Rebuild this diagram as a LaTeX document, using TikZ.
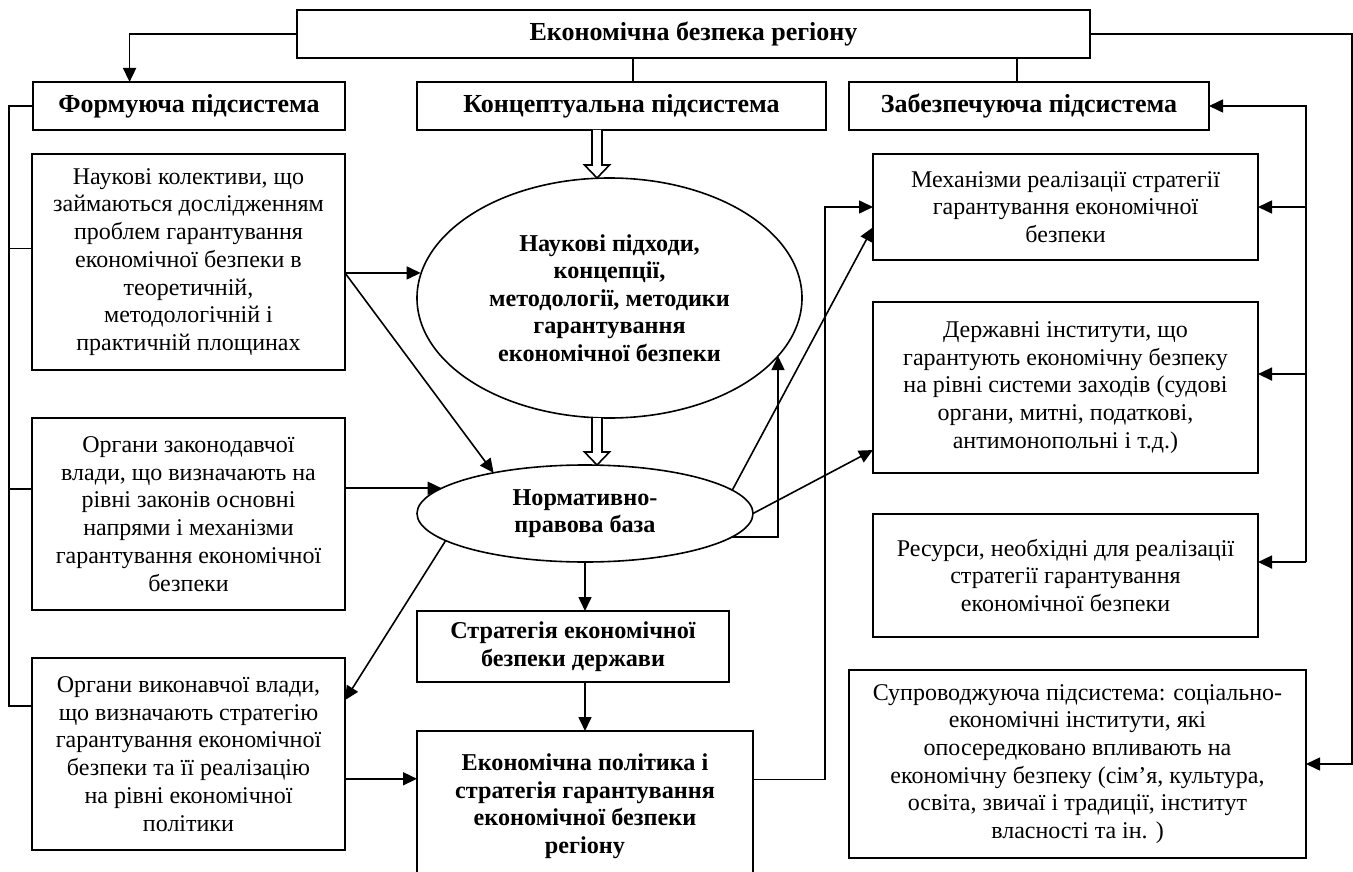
\documentclass[tikz,border=0pt]{standalone}
\usepackage{fontspec}
\setmainfont{Liberation Serif}
\usetikzlibrary{shapes.geometric}
\usetikzlibrary{arrows.meta}
\usetikzlibrary{calc}

\newcommand{\hollowarrow}[2]{%
  \draw[line width=1.6pt,fill=white,line join=miter]
    ($(#1)+(-5,0)$) -- ($(#2)+(-5,-13)$) -- ($(#2)+(-12.5,-13)$) -- (#2)
    -- ($(#2)+(12.5,-13)$) -- ($(#2)+(5,-13)$) -- ($(#1)+(5,0)$);}

\begin{document}
\begin{tikzpicture}[
x=1pt,
y=-1pt,
every node/.style={font=\fontsize{24}{27.7}\selectfont,outer sep=0pt},
box/.style={draw,line width=1.6pt,align=center,inner sep=0pt},
headbox/.style={box,font=\fontsize{26}{27.7}\selectfont\bfseries},
midbox/.style={box,font=\fontsize{24.2}{27.5}\selectfont\bfseries},
oval/.style={draw,ellipse,line width=1.6pt,align=center,inner sep=0pt,font=\fontsize{24.2}{27.5}\selectfont\bfseries},
link/.style={line width=1.6pt},
arr/.style={link,-{Triangle[length=14pt,width=13pt]}}
]

\useasboundingbox (0,0) rectangle (1353,872);

\node[headbox,minimum width=793pt,minimum height=48pt] (top) at (693.5,34) {Економічна безпека регіону};

\node[headbox,minimum width=312pt,minimum height=48pt] (form) at (189,106) {Формуюча підсистема};
\node[headbox,minimum width=409pt,minimum height=48pt] (conc) at (621.5,106) {Концептуальна підсистема};
\node[headbox,minimum width=360pt,minimum height=48pt] (zab) at (1029,106) {Забезпечуюча підсистема};

\node[box,minimum width=313pt,minimum height=216pt] (nauk) at (188.5,262) {Наукові колективи, що\\займаються дослідженням\\проблем гарантування\\економічної безпеки в\\теоретичній,\\методологічній і\\практичній площинах};
\node[box,minimum width=313pt,minimum height=192pt] (zak) at (188.5,514) {Органи законодавчої\\влади, що визначають на\\рівні законів основні\\напрями і механізми\\гарантування економічної\\безпеки};
\node[box,minimum width=313pt,minimum height=192pt] (vyk) at (188.5,754) {Органи виконавчої влади,\\що визначають стратегію\\гарантування економічної\\безпеки та її реалізацію\\на рівні економічної\\політики};

\node[oval,minimum width=385pt,minimum height=240pt] (ell1) at (609.5,298) {Наукові підходи,\\концепції,\\методології, методики\\гарантування\\економічної безпеки};
\node[oval,minimum width=336pt,minimum height=97pt] (ell2) at (585,513.5) {Нормативно-\\правова база};

\node[midbox,minimum width=312pt,minimum height=71pt] (strat) at (573,646.5) {Стратегія економічної\\безпеки держави};
\node[midbox,minimum width=336pt,minimum height=150pt] (polit) at (585,806) {Економічна політика і\\стратегія гарантування\\економічної безпеки\\регіону};

\node[box,minimum width=385pt,minimum height=106pt] (mech) at (1065.5,207) {Механізми реалізації стратегії\\гарантування економічної\\безпеки};
\node[box,minimum width=385pt,minimum height=171pt] (derzh) at (1065.5,387.5) {Державні інститути, що\\гарантують економічну безпеку\\на рівні системи заходів (судові\\органи, митні, податкові,\\антимонопольні і т.д.)};
\node[box,minimum width=385pt,minimum height=123pt] (res) at (1065.5,575.5) {Ресурси, необхідні для реалізації\\стратегії гарантування\\економічної безпеки};
\node[box,minimum width=457pt,minimum height=188pt] (supr) at (1077.5,764) {Супроводжуюча підсистема: соціально-\\економічні інститути, які\\опосередковано впливають на\\економічну безпеку (сім’я, культура,\\освіта, звичаї і традиції, інститут\\власності та ін. )};

\coordinate (lbus) at (9,0);
\coordinate (rbus) at (1306,0);
\coordinate (rrim) at (1352,0);
\coordinate (hx) at (597,0);

\draw[arr] (top.west) -| (form.158);
\draw[link] (top.south -| conc.64) -- (conc.64);
\draw[link] (top.south -| zab.117) -- (zab.117);
\draw[arr] (top.east) -| (rrim |- supr.east) -- (supr.east);

\draw[link] (form.west) -| (lbus |- vyk.163) -- (vyk.163);
\draw[link] (lbus |- nauk.175) -- (nauk.175);
\draw[link] (lbus |- zak.171) -- (zak.171);

\draw[arr] (res.4 -| rbus) |- (zab.east);
\draw[arr] (res.4 -| rbus) -- (res.4);
\draw[arr] (rbus |- mech.east) -- (mech.east);
\draw[arr] (rbus |- derzh.4) -- (derzh.4);

\hollowarrow{conc.south -| hx}{ell1.north -| hx}
\hollowarrow{ell1.south -| hx}{ell2.north -| hx}

\draw[arr] (nauk.-4) -- (nauk.-4 -| ell1.173);
\draw[arr] (nauk.-4) -- (ell2.156);
\draw[arr] (zak.east |- ell2.170) -- (ell2.170);
\draw[arr] (ell2.191) -- (vyk.19);
\draw[arr] (vyk.-9) -- (vyk.-9 -| polit.west);

\draw[arr] (ell2.south) -- (ell2.south |- strat.north);
\draw[arr] (strat.south -| ell2.south) -- (polit.north);

\draw[arr] (polit.9) -- ++(72,0) |- (mech.west);
\draw[arr] (ell2.9) -- (mech.186);
\draw[arr] (ell2.east) -- (derzh.198);
\draw[arr] (ell2.-9) -| (ell1.-19);

\end{tikzpicture}
\end{document}
